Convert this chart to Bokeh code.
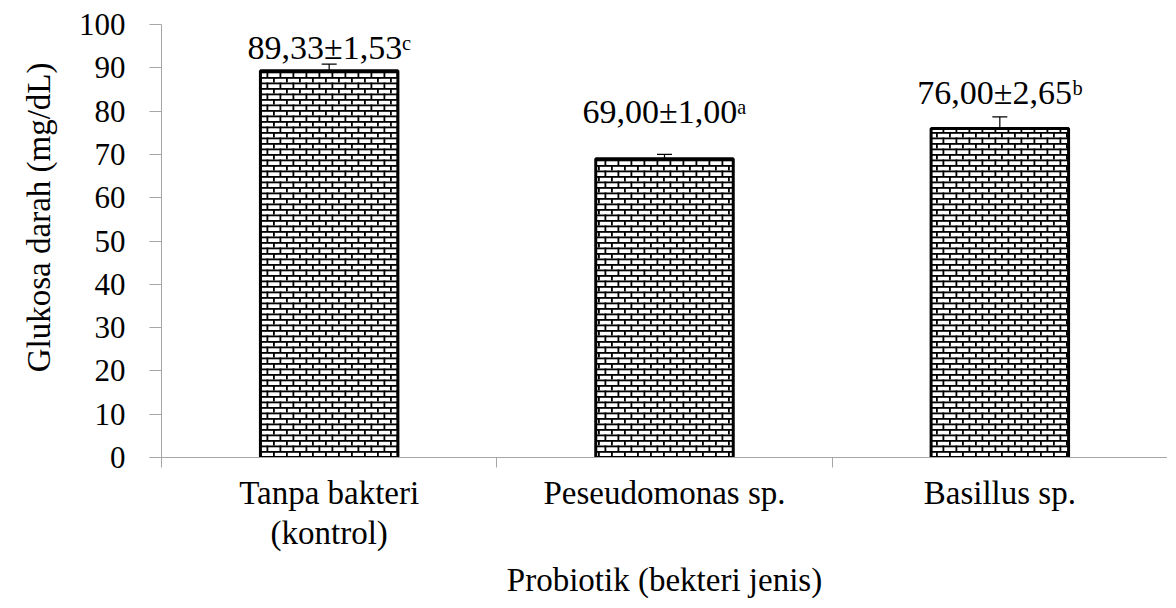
from bokeh.plotting import figure
from bokeh.models import (Range1d, FixedTicker, ColumnDataSource, Whisker, TeeHead,
                          CanvasTexture, Title)
from bokeh.core.properties import value
from bokeh.embed import file_html
from bokeh.resources import INLINE

# ---- data ----
categories = ["Tanpa bakteri\n(kontrol)", "Peseudomonas sp.", "Basillus sp."]
glucose_mean = [89.33, 69.00, 76.00]
glucose_sd = [1.53, 1.00, 2.65]
significance = ["c", "a", "b"]
y_ticks = [0, 10, 20, 30, 40, 50, 60, 70, 80, 90, 100]

# ---- layout (label heights in data units, as placed in the original) ----
label_y = [94.7, 80.0, 84.3]

SUP = {"a": "\u1d43", "b": "\u1d47", "c": "\u1d9c"}
FONT = "Liberation Serif"

def fmt(v):
    return f"{v:.2f}".replace(".", ",")

xs = [i + 0.5 for i in range(len(categories))]
labels = [f"{fmt(m)}\u00b1{fmt(s)}{SUP[g]}" for m, s, g in zip(glucose_mean, glucose_sd, significance)]

src = ColumnDataSource(dict(
    x=xs,
    top=glucose_mean,
    upper=[m + s for m, s in zip(glucose_mean, glucose_sd)],
    lower=[m - s for m, s in zip(glucose_mean, glucose_sd)],
    ly=label_y,
    txt=labels,
))

p = figure(width=1167, height=600, x_range=Range1d(0, len(categories)), y_range=Range1d(0, 100),
           output_backend="svg", toolbar_location=None,
           min_border_left=161, min_border_top=24, min_border_right=0, min_border_bottom=141)
p.outline_line_color = None
p.xgrid.visible = False
p.ygrid.visible = False
p.background_fill_color = "white"

brick = CanvasTexture(repetition="repeat", code="""
var w = 13, h = 11;
ctx.canvas.width = w; ctx.canvas.height = h;
ctx.fillStyle = "white";
ctx.fillRect(0, 0, w, h);
ctx.fillStyle = "black";
ctx.fillRect(0, 0, w, 1.8);
ctx.fillRect(0, 5.5, w, 1.8);
ctx.fillRect(0, 0, 1.8, 5.5);
ctx.fillRect(6.5, 5.5, 1.8, 5.5);
""")

p.vbar(x="x", top="top", bottom=0, width=0.41, source=src,
       fill_color="white", line_color="black", line_width=3,
       hatch_pattern=value("brick"), hatch_extra={"brick": brick}, hatch_color="black")

wh = Whisker(source=src, base="x", upper="upper", lower="lower",
             line_color="black", line_width=1.2,
             upper_head=TeeHead(size=15, line_color="black", line_width=1.2),
             lower_head=TeeHead(size=15, line_color="black", line_width=1.2))
p.add_layout(wh)

p.text(x="x", y="ly", text="txt", source=src, text_align="center", text_baseline="alphabetic",
       text_font=value(FONT), text_font_size="34px", text_color="black")

# y axis
ya = p.yaxis[0]
ya.ticker = FixedTicker(ticks=y_ticks, minor_ticks=[])
ya.axis_line_color = "#a6a6a6"
ya.major_tick_line_color = "#a6a6a6"
ya.major_tick_out = 12
ya.major_tick_in = 0
ya.minor_tick_out = 0
ya.minor_tick_in = 0
ya.major_label_text_font = FONT
ya.major_label_text_font_size = "31px"
ya.major_label_text_color = "black"
ya.major_label_standoff = 24

# y axis title (placed above centre, as in the original)
p.add_layout(Title(text="Glukosa darah (mg/dL)", align="right", offset=38, standoff=37,
                   text_font=FONT, text_font_size="33px", text_font_style="normal",
                   text_color="black"), "left")

# x axis
xa = p.xaxis[0]
xa.ticker = FixedTicker(ticks=xs, minor_ticks=list(range(len(categories) + 1)))
xa.major_label_overrides = {x: c for x, c in zip(xs, categories)}
xa.axis_line_color = "#a6a6a6"
xa.major_tick_out = 0
xa.major_tick_in = 0
xa.minor_tick_line_color = "#a6a6a6"
xa.minor_tick_out = 10
xa.minor_tick_in = 0
xa.major_label_text_font = FONT
xa.major_label_text_font_size = "33px"
xa.major_label_text_line_height = 1.12
xa.major_label_text_color = "black"
xa.major_label_standoff = 7
xa.axis_label = "Probiotik (bekteri jenis)"
xa.axis_label_text_font = FONT
xa.axis_label_text_font_size = "33px"
xa.axis_label_text_font_style = "normal"
xa.axis_label_text_color = "black"
xa.axis_label_standoff = 8

open("out.html", "w").write(file_html(p, INLINE))
